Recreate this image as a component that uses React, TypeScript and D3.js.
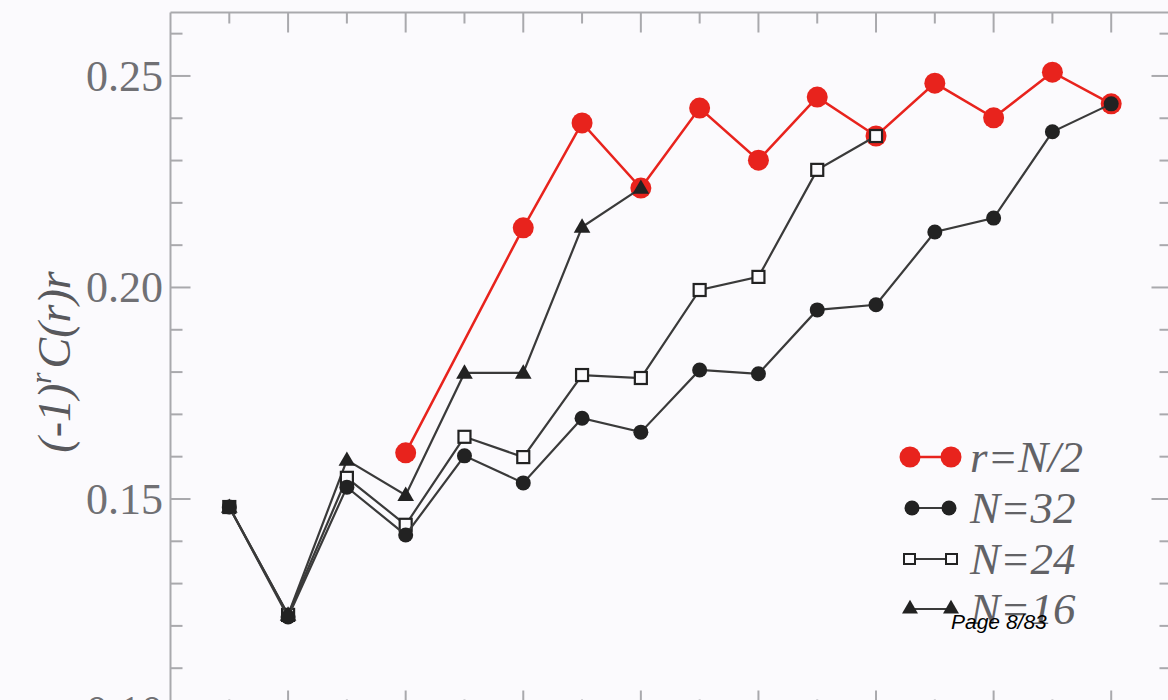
import React from "react";
import * as d3 from "d3";

// Distance r for each lattice size
const rAll = d3.range(1, 17);
const rN24 = d3.range(1, 13);
const rN16 = d3.range(1, 9);
const rHalf = [4, 6, 7, 8, 9, 10, 11, 12, 13, 14, 15, 16];

// (-1)^r C(r) r values
const valuesN32 = [0.1481, 0.1221, 0.1528, 0.1415, 0.1602, 0.1538, 0.1691, 0.1658, 0.1805, 0.1796, 0.1947, 0.1959, 0.2131, 0.2164, 0.2368, 0.2434];
const valuesN24 = [0.1481, 0.1226, 0.155, 0.1439, 0.1647, 0.1599, 0.1793, 0.1786, 0.1994, 0.2025, 0.2278, 0.2358];
const valuesN16 = [0.1481, 0.1226, 0.1592, 0.1509, 0.1798, 0.1798, 0.2143, 0.2235];
const valuesHalf = [0.1609, 0.2141, 0.2389, 0.2235, 0.2424, 0.2301, 0.245, 0.2358, 0.2483, 0.2401, 0.2509, 0.2434];

const yMajorTicks = [0.1, 0.15, 0.2, 0.25];
const yTickLabels = ["0.10", "0.15", "0.20", "0.25"];
const legendLabels = ["r=N/2", "N=32", "N=24", "N=16"];

const W = 1168;
const H = 700;

const RED = "#e8231d";
const INK = "#222";
const LINE = "#3a3a3a";
const AXIS = "#a9a9ad";
const BG = "#fbfafd";

export default function App() {
  const x = d3.scaleLinear().domain([0, 17]).range([170.5, 1170]);
  const y = d3.scaleLinear().domain([0.1, 0.265]).range([710.5, 12.5]);

  const line = d3
    .line<[number, number]>()
    .x((d) => x(d[0]))
    .y((d) => y(d[1]));

  const zip = (rs: number[], vs: number[]) => rs.map((r, i) => [r, vs[i]] as [number, number]);
  const half = zip(rHalf, valuesHalf);
  const n32 = zip(rAll, valuesN32);
  const n24 = zip(rN24, valuesN24);
  const n16 = zip(rN16, valuesN16);

  const yMinor = d3.range(0.1, 0.2651, 0.01).map((v) => +v.toFixed(3));
  const xTicks = d3.range(1, 17);

  const tri = d3.symbol().type(d3.symbolTriangle).size(120)();
  const triLegend = d3.symbol().type(d3.symbolTriangle).size(110)();

  const x0 = x(0);
  const x1 = x(17) + 1.5;
  const yTop = y(0.265);
  const yBot = y(0.1);

  const legendY = [457, 508, 559, 609];
  const legendX0 = 910;
  const legendX1 = 951;
  const serif = "'Liberation Serif', 'Times New Roman', serif";

  return (
    <svg
      width={W}
      height={H}
      style={{ position: "absolute", left: 0, top: 0, display: "block" }}
    >
      <rect x={0} y={0} width={W} height={H} fill={BG} />

      {/* frame */}
      <g stroke={AXIS} strokeWidth={2} fill="none">
        <line x1={x0} y1={yTop} x2={x0} y2={yBot} />
        <line x1={x0} y1={yTop} x2={x1} y2={yTop} />
        <line x1={x1} y1={yTop} x2={x1} y2={yBot} />
        <line x1={x0} y1={yBot} x2={x1} y2={yBot} />
      </g>

      {/* y ticks, left and right; x ticks, top and bottom */}
      <g stroke={AXIS} strokeWidth={2}>
        {yMinor.map((v) => {
          const major = yMajorTicks.some((m) => Math.abs(m - v) < 1e-6);
          const len = major ? 20 : 12;
          return (
            <g key={"yt" + v}>
              <line x1={x0} x2={x0 + len} y1={y(v)} y2={y(v)} />
              <line x1={x1} x2={x1 - len} y1={y(v)} y2={y(v)} />
            </g>
          );
        })}
        {xTicks.map((r) => {
          const len = r % 2 === 0 ? 20 : 11;
          return (
            <g key={"xt" + r}>
              <line x1={x(r)} x2={x(r)} y1={yTop} y2={yTop + len} />
              <line x1={x(r)} x2={x(r)} y1={yBot} y2={yBot - len} />
            </g>
          );
        })}
      </g>

      {/* y tick labels */}
      <g fontFamily={serif} fontSize={44} fill="#707074" textAnchor="end">
        {yMajorTicks.map((v, i) => (
          <text key={"yl" + v} x={163} y={y(v) + 15}>
            {yTickLabels[i]}
          </text>
        ))}
      </g>

      {/* y axis title */}
      <text
        transform={`translate(70, 362) rotate(-90)`}
        fontFamily={serif}
        fontStyle="italic"
        fontSize={46}
        fill="#58585c"
        textAnchor="middle"
      >
        <tspan>(-1)</tspan>
        <tspan fontSize={29} dy={-19}>r</tspan>
        <tspan dy={19} dx={4}>C(r)r</tspan>
      </text>

      {/* r = N/2 series */}
      <path d={line(half) || ""} fill="none" stroke={RED} strokeWidth={2.5} />
      {half.map((d, i) => (
        <circle key={"h" + i} cx={x(d[0])} cy={y(d[1])} r={10.5} fill={RED} />
      ))}

      {/* N = 16 */}
      <path d={line(n16) || ""} fill="none" stroke={LINE} strokeWidth={2.2} />
      {n16.map((d, i) => (
        <path key={"t" + i} d={tri || ""} transform={`translate(${x(d[0])},${y(d[1]) + 1})`} fill={INK} />
      ))}

      {/* N = 24 */}
      <path d={line(n24) || ""} fill="none" stroke={LINE} strokeWidth={2.2} />
      {n24.map((d, i) => (
        <rect
          key={"s" + i}
          x={x(d[0]) - 6}
          y={y(d[1]) - 6}
          width={12}
          height={12}
          fill={BG}
          stroke={INK}
          strokeWidth={2.2}
        />
      ))}

      {/* N = 32 */}
      <path d={line(n32) || ""} fill="none" stroke={LINE} strokeWidth={2.2} />
      {n32.map((d, i) => (
        <circle key={"c" + i} cx={x(d[0])} cy={y(d[1])} r={7.5} fill={INK} />
      ))}

      {/* legend */}
      <g>
        <line x1={legendX0} x2={legendX1} y1={legendY[0]} y2={legendY[0]} stroke={RED} strokeWidth={2.5} />
        <circle cx={legendX0} cy={legendY[0]} r={10.5} fill={RED} />
        <circle cx={legendX1} cy={legendY[0]} r={10.5} fill={RED} />

        <line x1={legendX0} x2={legendX1} y1={legendY[1]} y2={legendY[1]} stroke={LINE} strokeWidth={1.8} />
        <circle cx={legendX0 + 2} cy={legendY[1]} r={7.5} fill={INK} />
        <circle cx={legendX1 - 2} cy={legendY[1]} r={7.5} fill={INK} />

        <line x1={legendX0} x2={legendX1} y1={legendY[2]} y2={legendY[2]} stroke={LINE} strokeWidth={1.8} />
        <rect x={legendX0 - 6} y={legendY[2] - 5} width={11} height={10} fill={BG} stroke={INK} strokeWidth={2} />
        <rect x={legendX1 - 5} y={legendY[2] - 5} width={11} height={10} fill={BG} stroke={INK} strokeWidth={2} />

        <line x1={legendX0} x2={legendX1} y1={legendY[3]} y2={legendY[3]} stroke={LINE} strokeWidth={1.8} />
        <path d={triLegend || ""} transform={`translate(${legendX0},${legendY[3]})`} fill={INK} />
        <path d={triLegend || ""} transform={`translate(${legendX1},${legendY[3]})`} fill={INK} />

        <g fontFamily={serif} fontStyle="italic" fontSize={45} fill="#626266">
          {legendLabels.map((t, i) => (
            <text key={"lg" + i} x={970} y={legendY[i] + 15}>
              {t}
            </text>
          ))}
        </g>
      </g>

      {/* page counter overlay */}
      <text
        x={951}
        y={629}
        fontFamily="'Liberation Sans', Arial, sans-serif"
        fontStyle="italic"
        fontSize={21}
        fill="#000"
      >
        Page 8/83
      </text>
    </svg>
  );
}
